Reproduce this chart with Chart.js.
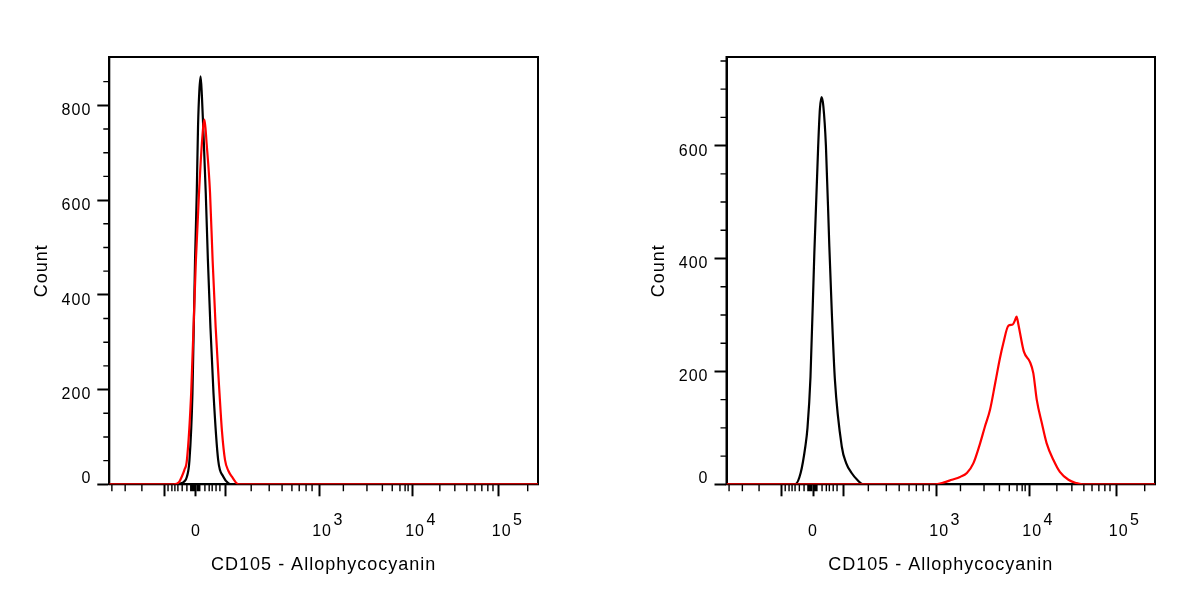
<!DOCTYPE html>
<html>
<head>
<meta charset="utf-8">
<script src="https://cdn.jsdelivr.net/npm/chart.js@4.4.1/dist/chart.umd.min.js"></script>
<style>
  html, body { margin: 0; padding: 0; background: #fff; }
  .panel { position: absolute; top: 0; width: 600px; height: 600px; }
  #leftPanel { left: 0; }
  #rightPanel { left: 600px; }
</style>
</head>
<body>
<div class="panel" id="leftPanel"><canvas id="leftChart"></canvas></div>
<div class="panel" id="rightPanel"><canvas id="rightChart"></canvas></div>
<script>
  // x values are display channels (0-1000) of the biexponential axis
  const leftBlackX = [0, 160, 167, 175, 181, 187, 194, 200, 204, 207, 210, 213, 216, 219, 225, 230, 236, 243, 254, 266, 278, 286, 1000];
  const leftBlackY = [0, 0, 2, 6, 16, 51, 193, 473, 615, 756, 830, 861, 820, 756, 615, 473, 330, 193, 51, 16, 2, 0, 0];
  const leftRedX = [0, 150, 157, 163, 169, 175, 181, 191, 202, 209, 216, 222, 227, 235, 241, 248, 257, 263, 270, 278, 286, 301, 1000];
  const leftRedY = [0, 0, 1, 5, 16, 30, 51, 193, 473, 610, 720, 770, 720, 615, 473, 333, 193, 110, 51, 28, 16, 0, 0];

  const rightBlackX = [0, 160, 173, 184, 189, 196, 205, 214, 218, 222, 226, 232, 240, 246, 253, 269, 279, 292, 305, 319, 1000];
  const rightBlackY = [0, 0, 20, 67, 100, 190, 410, 600, 665, 686, 670, 600, 421, 300, 185, 67, 38, 20, 8, 0, 0];
  const rightRedX = [0, 483, 506, 526, 545, 561, 576, 592, 603, 615, 627, 638, 646, 658, 668, 673, 677, 681, 685, 694, 708, 716, 724, 736, 747, 763, 778, 798, 817, 830, 1000];
  const rightRedY = [0, 0, 3, 8, 13, 20, 37, 73, 102, 132, 179, 223, 250, 281, 283, 290, 297, 284, 268, 235, 217, 197, 150, 108, 73, 43, 22, 8, 2, 0, 0];

  // axis ticks
  const xMajor = [128, 202, 272, 490, 707, 909];
  const xLabels = ["", "0", "", "10^3", "10^4", "10^5"];
  const xMinor = [6, 37, 76, 137, 146, 153, 160, 170, 181, 190, 193, 196, 199, 205, 208, 211, 223, 233, 240, 249, 258,
    331, 373, 403, 426, 443, 459, 473, 546, 601, 637, 660, 678, 690, 697, 771, 806, 834, 853, 869, 883, 895, 976];
  const leftYMajor = [0, 200, 400, 600, 800];
  const leftYMinor = [50, 100, 150, 250, 300, 350, 450, 500, 550, 650, 700, 750, 850];
  const rightYMajor = [0, 200, 400, 600];
  const rightYMinor = [50, 100, 150, 250, 300, 350, 450, 500, 550, 650, 700, 750];

  Chart.defaults.font.family = "'Liberation Sans', Arial, sans-serif";
  Chart.defaults.color = "#000";

  const flowFrame = {
    id: "flowFrame",
    beforeDraw(chart) {
      chart.ctx.letterSpacing = "1px";
    },
    beforeDatasetsDraw(chart, args, opts) {
      const { ctx, chartArea: a } = chart;
      const xs = chart.scales.x, ys = chart.scales.y;
      ctx.save();
      ctx.strokeStyle = "#000";
      ctx.lineWidth = 1.4;
      ctx.beginPath();
      opts.xMinor.forEach(function (v) {
        const px = xs.getPixelForValue(v);
        ctx.moveTo(px, a.bottom);
        ctx.lineTo(px, a.bottom + 7);
      });
      opts.yMinor.forEach(function (v) {
        const py = ys.getPixelForValue(v);
        ctx.moveTo(a.left - 6, py);
        ctx.lineTo(a.left, py);
      });
      ctx.stroke();
      ctx.lineWidth = 2;
      ctx.strokeRect(a.left, a.top, a.right - a.left, a.bottom - a.top);
      ctx.restore();
    }
  };

  function points(xs, ys) {
    return xs.map(function (x, i) { return { x: x, y: ys[i] }; });
  }

  function makeHist(id, black, red, yMax, yMajor, yMinor, pad, areaLeft) {
    new Chart(document.getElementById(id), {
      type: "line",
      data: {
        // first dataset is painted last, so red sits on top
        datasets: [
          { data: red, borderColor: "#ff0000", borderWidth: 2.2, pointRadius: 0, cubicInterpolationMode: "monotone" },
          { data: black, borderColor: "#000", borderWidth: 2.2, pointRadius: 0, cubicInterpolationMode: "monotone" }
        ]
      },
      options: {
        responsive: true,
        maintainAspectRatio: false,
        animation: false,
        events: [],
        layout: { padding: pad },
        plugins: {
          legend: { display: false },
          tooltip: { enabled: false },
          flowFrame: { xMinor: xMinor, yMinor: yMinor }
        },
        scales: {
          x: {
            type: "linear",
            min: 0,
            max: 1000,
            afterFit: function (scale) { scale.height = 91.7; },
            afterBuildTicks: function (scale) {
              scale.ticks = xMajor.map(function (v) { return { value: v }; });
            },
            ticks: {
              autoSkip: false,
              maxRotation: 0,
              padding: 19,
              font: { size: 16, lineHeight: "11px" },
              callback: function (value) {
                const lab = xLabels[xMajor.indexOf(value)] || "";
                if (lab.indexOf("^") >= 0) {
                  const parts = lab.split("^");
                  return ["       " + parts[1], " " + parts[0]];
                }
                return ["", lab];
              }
            },
            grid: { drawOnChartArea: false, tickLength: 12, tickWidth: 2, tickColor: "#000" },
            border: { color: "#000", width: 2 },
            title: { display: true, text: "CD105 - Allophycocyanin", font: { size: 18 }, padding: 0 }
          },
          y: {
            min: 0,
            max: yMax,
            afterFit: function (scale) { scale.width = areaLeft - pad.left; },
            afterBuildTicks: function (scale) {
              scale.ticks = yMajor.map(function (v) { return { value: v }; });
            },
            ticks: {
              padding: 6,
              font: { size: 16, lineHeight: "11px" },
              callback: function (value) {
                return value === 0 ? ["0", ""] : ["", String(value)];
              }
            },
            grid: { drawOnChartArea: false, tickLength: 12, tickWidth: 2, tickColor: "#000" },
            border: { color: "#000", width: 2 },
            title: { display: true, text: "Count", font: { size: 18 }, padding: 0 }
          }
        }
      },
      plugins: [flowFrame]
    });
  }

  makeHist("leftChart", points(leftBlackX, leftBlackY), points(leftRedX, leftRedY),
    902, leftYMajor, leftYMinor, { left: 31, top: 57, right: 62, bottom: 24 }, 109.3);
  makeHist("rightChart", points(rightBlackX, rightBlackY), points(rightRedX, rightRedY),
    757, rightYMajor, rightYMinor, { left: 48, top: 57, right: 45, bottom: 24 }, 126.5);
</script>
</body>
</html>
